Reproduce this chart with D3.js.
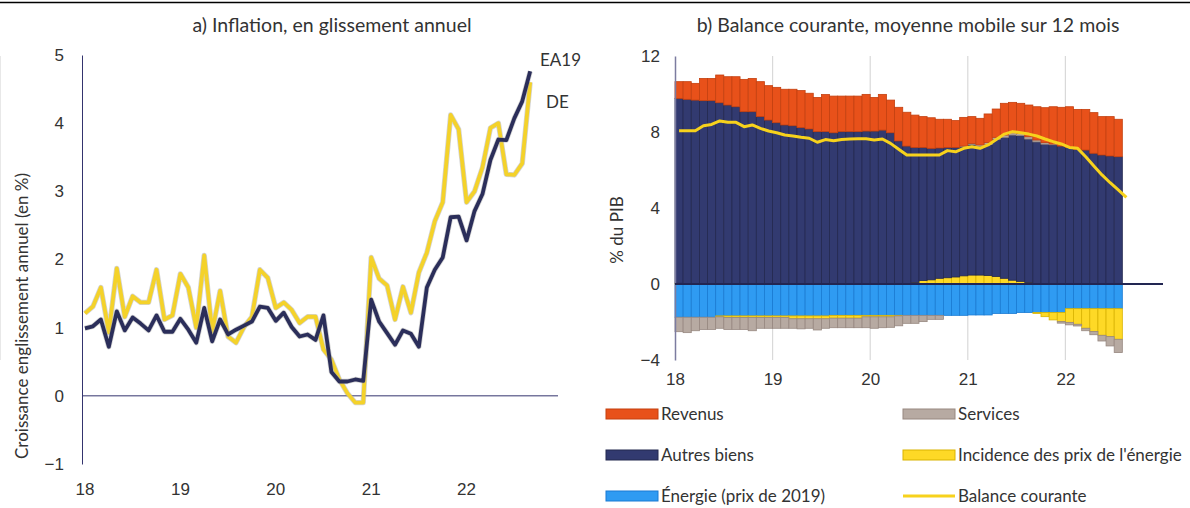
<!DOCTYPE html>
<html lang="fr">
<head>
<meta charset="UTF-8">
<title>Inflation et balance courante</title>
<style>
  body { margin: 0; background: #fff; }
  svg { display: block; font-family: Lato, "Open Sans", sans-serif; }
  text { fill: #333; }
</style>
</head>
<body>
<svg width="1190" height="508"></svg>
<script src="https://cdn.jsdelivr.net/npm/d3@7"></script>
<script>
  // a) inflation, monthly Jan 2018 - Sep 2022
  const ea19 = [0.99, 1.02, 1.12, 0.72, 1.24, 0.96, 1.15, 1.06, 0.96, 1.18, 0.94, 0.94,
    1.13, 0.97, 0.78, 1.29, 0.80, 1.12, 0.90, 0.97, 1.03, 1.09, 1.31, 1.29,
    1.10, 1.22, 1.01, 0.87, 0.90, 0.82, 1.18, 0.35, 0.21, 0.21, 0.24, 0.22,
    1.41, 1.09, 0.92, 0.75, 0.96, 0.91, 0.72, 1.59, 1.85, 2.03, 2.62, 2.63,
    2.28, 2.71, 2.96, 3.46, 3.76, 3.75, 4.07, 4.32, 4.76];
  const de = [1.21, 1.31, 1.59, 0.93, 1.87, 1.16, 1.46, 1.37, 1.37, 1.85, 1.12, 1.18,
    1.79, 1.59, 1.00, 2.06, 0.94, 1.54, 0.87, 0.78, 1.01, 1.16, 1.85, 1.73,
    1.29, 1.37, 1.26, 1.07, 1.16, 1.16, 0.68, 0.53, 0.24, 0.04, -0.10, -0.10,
    2.03, 1.72, 1.62, 1.12, 1.60, 1.22, 1.81, 2.10, 2.56, 2.84, 4.12, 3.91,
    2.84, 3.00, 3.35, 3.93, 4.00, 3.25, 3.24, 3.41, 4.60];
  const years = ['18', '19', '20', '21', '22'];
  const inflTicks = [-1, 0, 1, 2, 3, 4, 5];

  // b) balance courante, bars Jan 2018 - Jul 2022, % du PIB
  const revenus = [0.88, 0.93, 0.88, 1.17, 1.17, 1.46, 1.49, 1.58, 1.70, 1.75, 1.84, 1.81,
    1.86, 1.88, 1.92, 1.95, 1.88, 1.80, 1.95, 1.93, 1.87, 1.87, 1.87, 1.93,
    1.77, 1.88, 1.72, 1.77, 1.78, 1.70, 1.62, 1.61, 1.51, 1.48, 1.41, 1.51,
    1.41, 1.40, 1.51, 1.49, 1.67, 1.60, 1.58, 1.67, 1.75, 1.84, 1.96, 2.04,
    2.14, 2.10, 2.14, 2.14, 2.02, 2.07, 1.97];
  const autresBiens = [9.73, 9.72, 9.68, 9.65, 9.65, 9.54, 9.42, 9.33, 9.07, 9.07, 8.81, 8.63,
    8.49, 8.37, 8.33, 8.23, 8.16, 8.02, 8.02, 7.96, 8.02, 8.02, 8.02, 8.05,
    8.05, 8.10, 7.96, 7.53, 7.23, 7.11, 7.01, 6.92, 6.86, 6.86, 6.82, 6.79,
    6.87, 6.77, 6.89, 7.22, 7.42, 7.64, 7.67, 7.55, 7.48, 7.36, 7.33, 7.26,
    7.19, 7.09, 7.05, 6.88, 6.79, 6.74, 6.70];
  const services = [-0.76, -0.81, -0.71, -0.64, -0.64, -0.60, -0.63, -0.63, -0.63, -0.70, -0.57, -0.57,
    -0.57, -0.57, -0.50, -0.53, -0.50, -0.59, -0.50, -0.50, -0.50, -0.50, -0.50, -0.57,
    -0.60, -0.57, -0.55, -0.52, -0.42, -0.42, -0.33, -0.21, -0.21, 0, 0, 0.04,
    0.06, 0.08, 0.10, 0.10, 0.12, 0.12, 0.12, 0.12, 0.10, 0.08, 0.04, -0.08,
    -0.13, -0.09, -0.13, -0.17, -0.30, -0.49, -0.70];
  const incidence = [0.04, 0, 0, 0, 0, -0.05, -0.08, -0.08, -0.08, -0.08, -0.08, -0.08,
    -0.08, -0.08, -0.15, -0.15, -0.15, -0.15, -0.15, -0.15, -0.15, -0.15, -0.15, -0.08,
    -0.08, -0.08, -0.08, -0.03, 0.03, 0.08, 0.18, 0.22, 0.30, 0.33, 0.37, 0.43,
    0.47, 0.47, 0.45, 0.40, 0.30, 0.20, 0.14, 0.08, -0.05, -0.22, -0.39, -0.48,
    -0.72, -0.82, -1.03, -1.20, -1.40, -1.47, -1.61];
  const energie = [-1.75, -1.75, -1.75, -1.75, -1.75, -1.68, -1.68, -1.68, -1.68, -1.68, -1.68, -1.68,
    -1.68, -1.68, -1.68, -1.68, -1.68, -1.68, -1.68, -1.65, -1.65, -1.65, -1.65, -1.65,
    -1.65, -1.65, -1.65, -1.65, -1.65, -1.65, -1.65, -1.65, -1.65, -1.65, -1.65, -1.65,
    -1.63, -1.63, -1.63, -1.55, -1.55, -1.55, -1.50, -1.50, -1.50, -1.50, -1.50, -1.50,
    -1.30, -1.30, -1.30, -1.30, -1.30, -1.30, -1.30];
  // the line goes one month further (Aug 2022)
  const balance = [8.07, 8.07, 8.07, 8.33, 8.40, 8.58, 8.51, 8.51, 8.28, 8.37, 8.19, 8.05,
    7.96, 7.84, 7.79, 7.72, 7.67, 7.46, 7.60, 7.54, 7.61, 7.63, 7.65, 7.65,
    7.58, 7.63, 7.40, 7.09, 6.79, 6.79, 6.79, 6.79, 6.79, 7.02, 6.96, 7.14,
    7.22, 7.14, 7.32, 7.61, 7.89, 8.02, 7.96, 7.89, 7.79, 7.63, 7.49, 7.37,
    7.19, 7.14, 6.70, 6.21, 5.74, 5.33, 4.95, 4.56];
  const balTicks = [-4, 0, 4, 8, 12];

  const svg = d3.select('svg');
  const fs = '17px';

  // thin rule at the very top
  svg.append('line')
    .attr('x1', 0).attr('x2', 1190).attr('y1', 2.5).attr('y2', 2.5)
    .attr('stroke', '#000').attr('stroke-width', 1.5);

  // ---------- a) inflation ----------
  const xa = d3.scaleBand().domain(d3.range(60)).range([81, 558]);
  const ya = d3.scaleLinear().domain([-1, 5]).range([464, 55]);
  const xmid = i => xa(i) + xa.bandwidth() / 2;
  const axisCol = '#34346e';

  svg.append('text')
    .attr('x', 332).attr('y', 25).attr('dy', '0.35em')
    .attr('text-anchor', 'middle').style('font-size', '19.5px')
    .text('a) Inflation, en glissement annuel');

  const ayAxis = svg.append('g')
    .attr('transform', 'translate(82,0)')
    .call(d3.axisLeft(ya).tickValues(inflTicks).tickSize(0).tickPadding(18).tickFormat(d3.format('d')));
  ayAxis.select('.domain').attr('stroke', axisCol);
  ayAxis.selectAll('text').style('font-size', fs).attr('fill', '#333');

  svg.append('line')
    .attr('x1', 82).attr('x2', 558).attr('y1', ya(0)).attr('y2', ya(0))
    .attr('stroke', axisCol).attr('stroke-width', 1);

  const axAxis = svg.append('g')
    .attr('transform', 'translate(0,480)')
    .call(d3.axisBottom(xa).tickValues([0, 12, 24, 36, 48]).tickSize(0).tickPadding(3)
      .tickFormat(i => years[i / 12]));
  axAxis.select('.domain').remove();
  axAxis.selectAll('text').style('font-size', fs).attr('fill', '#333');

  svg.append('text')
    .attr('transform', 'translate(22,' + 316 + ') rotate(-90)')
    .attr('text-anchor', 'middle').attr('dy', '0.35em').style('font-size', fs)
    .text('Croissance englissement annuel (en %)');

  const lineA = d3.line().x((d, i) => xmid(i)).y(d => ya(d));
  [[de, '#f4d22a'], [ea19, '#2b2e5a']].forEach(([s, col]) => {
    svg.append('path').attr('d', lineA(s)).attr('fill', 'none')
      .attr('stroke', '#a8a8a8').attr('stroke-opacity', 0.5).attr('stroke-width', 5.3)
      .attr('stroke-linejoin', 'round');
    svg.append('path').attr('d', lineA(s)).attr('fill', 'none')
      .attr('stroke', col).attr('stroke-width', 3.8).attr('stroke-linejoin', 'round');
  });

  svg.append('text').attr('x', 540).attr('y', 60).attr('dy', '0.35em')
    .style('font-size', fs).text('EA19');
  svg.append('text').attr('x', 546).attr('y', 102).attr('dy', '0.35em')
    .style('font-size', fs).text('DE');

  // ---------- b) balance courante ----------
  const xb = d3.scaleBand().domain(d3.range(60)).range([675, 1163]);
  const yb = d3.scaleLinear().domain([-4, 12]).range([360, 56]);
  const bmid = i => xb(i) + xb.bandwidth() / 2;

  svg.append('text')
    .attr('x', 908).attr('y', 25).attr('dy', '0.35em')
    .attr('text-anchor', 'middle').style('font-size', '19.5px')
    .text('b) Balance courante, moyenne mobile sur 12 mois');

  svg.append('g').selectAll('line').data([1, 2, 3, 4, 5]).join('line')
    .attr('x1', k => xb(k * 12)).attr('x2', k => xb(k * 12))
    .attr('y1', 56).attr('y2', 360)
    .attr('stroke', '#d9d9d9').attr('stroke-width', 1.2);

  const keys = ['energie', 'incidence', 'autres', 'services', 'revenus'];
  const colours = {
    revenus: ['#e8511a', '#c4400f'],
    autres: ['#323a70', '#23284f'],
    services: ['#b7aaa2', '#978880'],
    incidence: ['#fed926', '#d9b300'],
    energie: ['#2f9bf2', '#1a7bd3']
  };
  const rows = revenus.map((r, i) => ({
    revenus: r, autres: autresBiens[i], services: services[i],
    incidence: incidence[i], energie: energie[i]
  }));
  const stacked = d3.stack().keys(keys).offset(d3.stackOffsetDiverging)(rows);

  svg.append('g').selectAll('g').data(stacked).join('g')
    .attr('fill', s => colours[s.key][0])
    .attr('stroke', s => colours[s.key][1])
    .attr('stroke-width', 0.8)
    .selectAll('rect').data(s => s.map((d, i) => ({ d, i }))).join('rect')
    .attr('x', p => xb(p.i))
    .attr('width', xb.bandwidth())
    .attr('y', p => yb(Math.max(p.d[0], p.d[1])))
    .attr('height', p => Math.abs(yb(p.d[0]) - yb(p.d[1])));

  const byAxis = svg.append('g')
    .attr('transform', 'translate(675,0)')
    .call(d3.axisLeft(yb).tickValues(balTicks).tickSize(0).tickPadding(15));
  byAxis.select('.domain').attr('stroke', '#7c7ca0').attr('stroke-width', 1.5);
  byAxis.selectAll('text').style('font-size', fs).attr('fill', '#333');

  svg.append('line')
    .attr('x1', 675).attr('x2', 1163).attr('y1', yb(0)).attr('y2', yb(0))
    .attr('stroke', '#222652').attr('stroke-width', 2);

  const bxAxis = svg.append('g')
    .attr('transform', 'translate(0,371)')
    .call(d3.axisBottom(d3.scaleLinear().domain([0, 60]).range([675, 1163]))
      .tickValues([0, 12, 24, 36, 48]).tickSize(0).tickPadding(2)
      .tickFormat(i => years[i / 12]));
  bxAxis.select('.domain').remove();
  bxAxis.selectAll('text').style('font-size', fs).attr('fill', '#333');

  svg.append('text')
    .attr('transform', 'translate(617,230) rotate(-90)')
    .attr('text-anchor', 'middle').attr('dy', '0.35em').style('font-size', fs)
    .text('% du PIB');

  const lineB = d3.line().x((d, i) => bmid(i)).y(d => yb(d));
  svg.append('path').attr('d', lineB(balance)).attr('fill', 'none')
    .attr('stroke', '#f7d21c').attr('stroke-width', 3).attr('stroke-linejoin', 'round');

  // legend
  const legend = [
    { name: 'Revenus', key: 'revenus', col: 0, row: 0 },
    { name: 'Services', key: 'services', col: 1, row: 0 },
    { name: 'Autres biens', key: 'autres', col: 0, row: 1 },
    { name: "Incidence des prix de l'énergie", key: 'incidence', col: 1, row: 1 },
    { name: 'Énergie (prix de 2019)', key: 'energie', col: 0, row: 2 },
    { name: 'Balance courante', key: 'line', col: 1, row: 2 }
  ];
  const lg = svg.append('g').selectAll('g').data(legend).join('g')
    .attr('transform', d => 'translate(' + [606, 903][d.col] + ',' + (414 + d.row * 41) + ')');
  lg.filter(d => d.key !== 'line').append('rect')
    .attr('x', 0).attr('y', -5).attr('width', 52).attr('height', 10)
    .attr('fill', d => colours[d.key][0]).attr('stroke', d => colours[d.key][1]);
  lg.filter(d => d.key === 'line').append('line')
    .attr('x1', 0).attr('x2', 52).attr('y1', 0).attr('y2', 0)
    .attr('stroke', '#f7d21c').attr('stroke-width', 3);
  lg.append('text').attr('x', 55).attr('dy', '0.35em').style('font-size', fs)
    .text(d => d.name);
</script>
</body>
</html>
